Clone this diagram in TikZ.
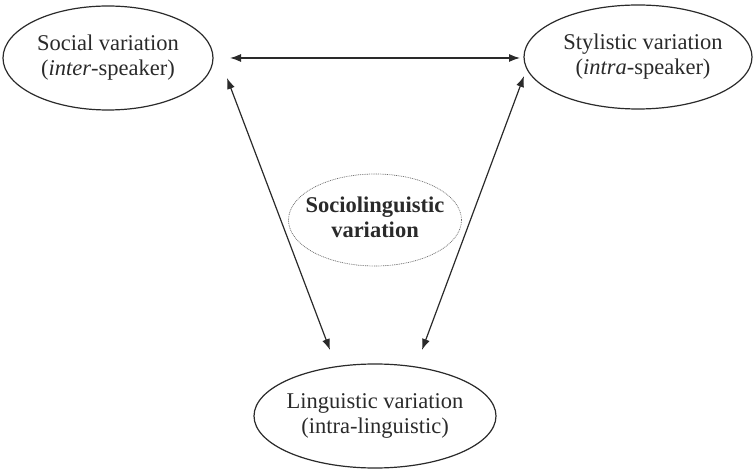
\documentclass[tikz,border=0pt]{standalone}
\usepackage{fontspec}
\setmainfont{Liberation Serif}
\usetikzlibrary{shapes.geometric,arrows.meta}
\definecolor{ink}{HTML}{2A2A2A}
\newcommand{\twolines}[2]{\makebox[0pt]{\fontsize{22.5}{25}\selectfont\begin{tabular}{@{}c@{}}#1\\#2\end{tabular}}}
\begin{document}
\begin{tikzpicture}[x=1pt,y=1pt,
  ell/.style={ellipse,draw=ink,line width=1.2pt,inner sep=0pt,text=ink},
  dotell/.style={ellipse,draw=ink!70,line width=0.7pt,dash pattern=on 0.9pt off 0.9pt,inner sep=0pt,text=ink},
  arr/.style={draw=ink,line width=1.2pt,{Latex[length=11pt,width=8pt]}-{Latex[length=11pt,width=8pt]}}]
\useasboundingbox (0,0) rectangle (754,471);
\node[ell,minimum width=210pt,minimum height=104pt] (soc) at (108,413) {\twolines{Social variation}{(\textit{inter}-speaker)}};
\node[ell,minimum width=228pt,minimum height=104pt] (sty) at (638,414) {\hspace*{10pt}\twolines{Stylistic variation}{(\textit{intra}-speaker)}};
\node[ell,minimum width=242pt,minimum height=104pt] (lin) at (375,55) {\twolines{Linguistic variation}{(intra-linguistic)}};
\node[dotell,minimum width=173pt,minimum height=92pt] (soclin) at (375,251) {\twolines{\textbf{Sociolinguistic}}{\textbf{variation}}};
\coordinate (h1) at (230,413);
\coordinate (h2) at (520,413);
\coordinate (l1) at (227,393);
\coordinate (l2) at (330,121);
\coordinate (r1) at (524,395);
\coordinate (r2) at (422,121);
\draw[arr] (h1) -- (h2);
\draw[arr] (l1) -- (l2);
\draw[arr] (r1) -- (r2);
\end{tikzpicture}
\end{document}
